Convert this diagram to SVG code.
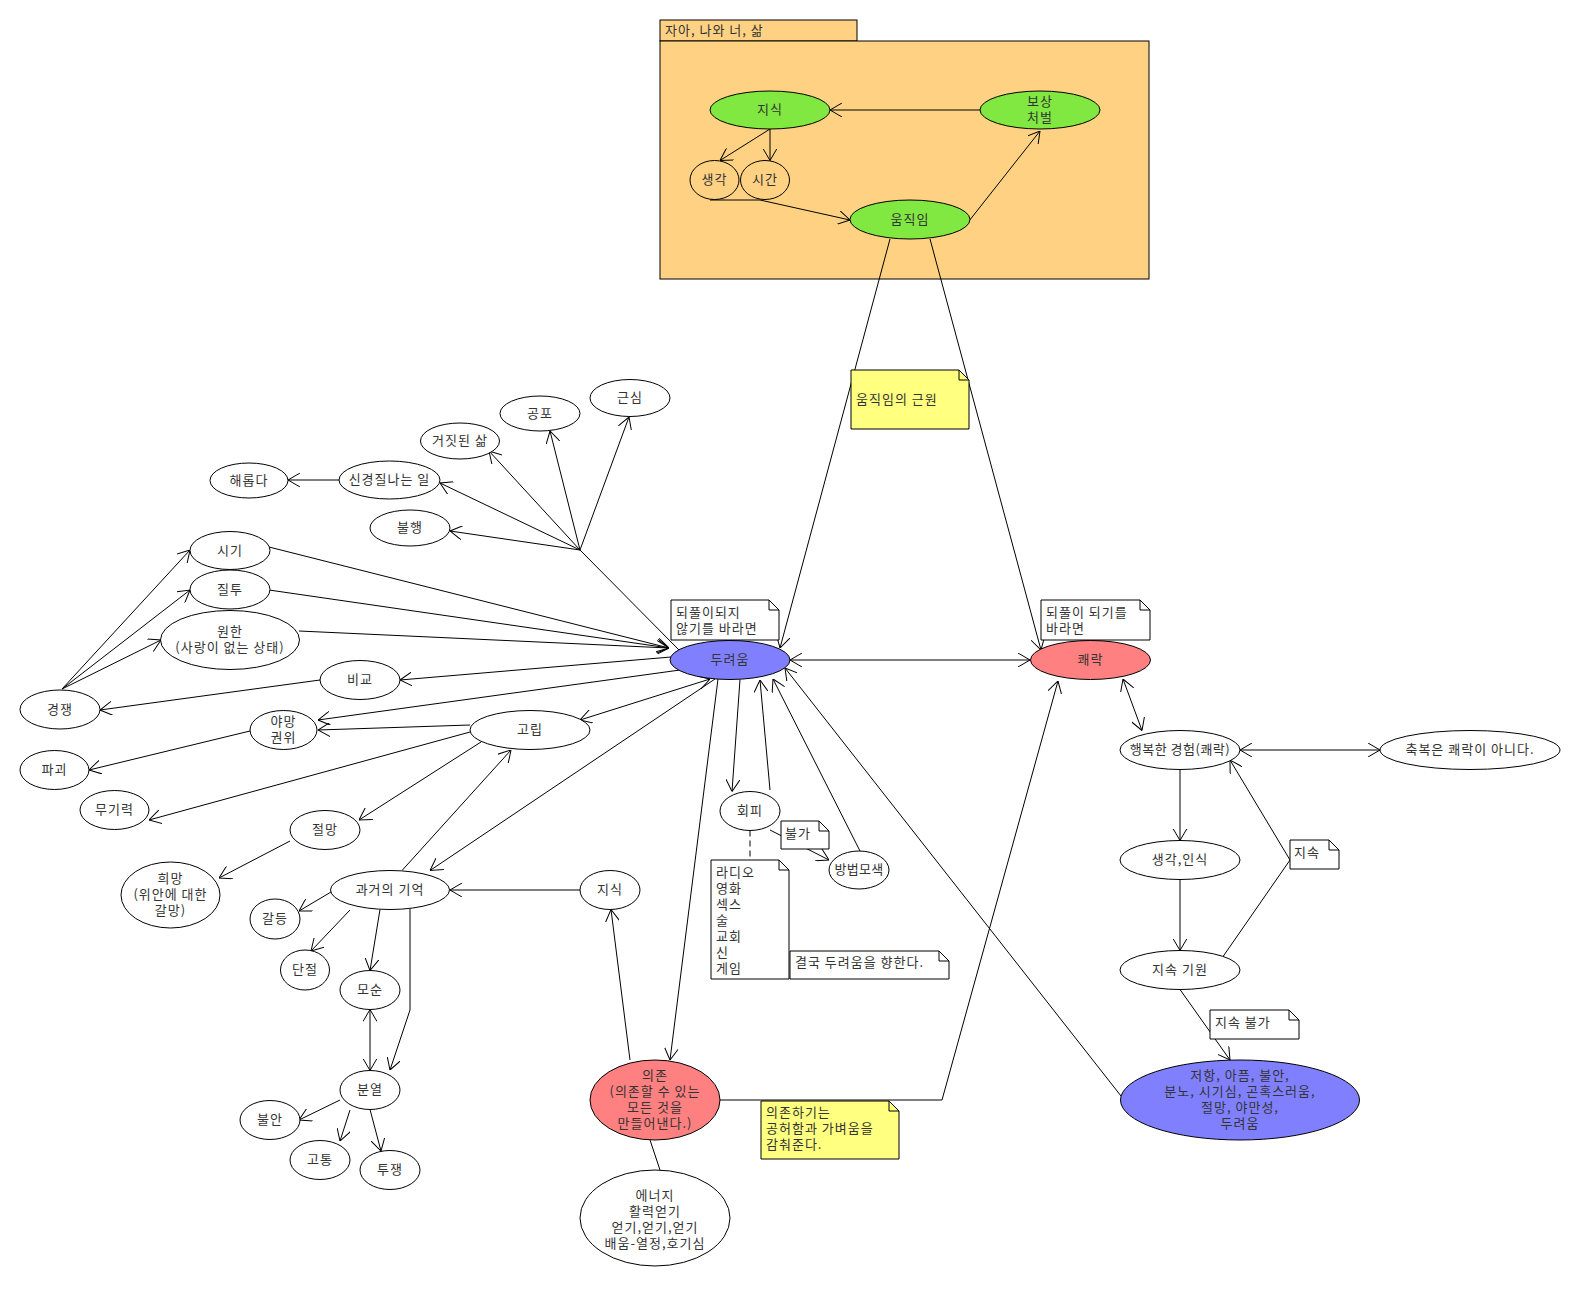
<svg xmlns="http://www.w3.org/2000/svg" width="1580" height="1290" viewBox="0 0 1580 1290">
<style>
  .e { fill:#ffffff; stroke:#000; stroke-width:1 }
  .gr { fill:#80E840 }
  .bl { fill:#8080FF }
  .rd { fill:#FF8080 }
  .nt { fill:#ffffff; stroke:#000; stroke-width:1 }
  .yl { fill:#FFFF80 }
  .pk { fill:#FFD283; stroke:#000; stroke-width:1 }
  .fold { fill:none; stroke:#000; stroke-width:1 }
  text { font-family:"Noto Sans CJK KR","Noto Sans",sans-serif; font-size:13px; fill:#333; letter-spacing:1px; transform:translateY(-1.5px) }
  .c { text-anchor:middle; dominant-baseline:central }
  .l { text-anchor:start; dominant-baseline:central }
  #edges line, #edges polyline { fill:none; stroke:#000; stroke-width:1 }
  .a { marker-end:url(#arr) }
  .aa { marker-end:url(#arr); marker-start:url(#arr) }
  .d { stroke-dasharray:6,4 }
</style>
<defs>
  <marker id="arr" viewBox="0 0 12 14" refX="12" refY="7" markerWidth="12" markerHeight="14" markerUnits="userSpaceOnUse" orient="auto-start-reverse">
    <path d="M0,0 L12,7 L0,14" fill="none" stroke="#000" stroke-width="1"/>
  </marker>
</defs>
<rect width="1580" height="1290" fill="#ffffff"/>

<g id="package">
  <rect class="pk" x="660" y="20" width="197" height="21"/>
  <rect class="pk" x="660" y="41" width="489" height="238"/>
  <text class="l" x="665" y="31">자아, 나와 너, 삶</text>
</g>

<g id="edges">
  <line class="a" x1="980" y1="110" x2="830" y2="110"/>
  <line class="a" x1="770" y1="129" x2="720" y2="160.5"/>
  <line class="a" x1="770" y1="129" x2="770" y2="160.5"/>
  <polyline class="a" points="710,200 760,200 850,220"/>
  <line class="a" x1="969" y1="221" x2="1040" y2="131"/>
  <line class="a" x1="890" y1="239" x2="780" y2="648"/>
  <line class="a" x1="930" y1="239" x2="1041" y2="650"/>
  <line class="aa" x1="790" y1="660" x2="1030" y2="660"/>
  <line x1="679" y1="650" x2="580" y2="550"/>
  <line class="a" x1="580" y1="550" x2="629" y2="417"/>
  <line class="a" x1="580" y1="550" x2="550" y2="431"/>
  <line class="a" x1="580" y1="550" x2="489" y2="451"/>
  <line class="a" x1="580" y1="550" x2="440" y2="483"/>
  <line class="a" x1="580" y1="550" x2="450" y2="531"/>
  <line class="a" x1="339" y1="480" x2="288" y2="480"/>
  <line class="a" x1="269" y1="547" x2="669" y2="648"/>
  <line class="a" x1="269" y1="590" x2="669" y2="648"/>
  <line class="a" x1="299" y1="631" x2="669" y2="648"/>
  <line class="a" x1="62" y1="689" x2="190" y2="550"/>
  <line class="a" x1="62" y1="689" x2="190" y2="590"/>
  <line class="a" x1="62" y1="689" x2="161" y2="640"/>
  <line class="a" x1="320" y1="680" x2="100" y2="710"/>
  <line class="a" x1="671" y1="657" x2="400" y2="680"/>
  <line class="a" x1="680" y1="670" x2="318" y2="720"/>
  <line class="a" x1="470" y1="725" x2="318" y2="730"/>
  <line class="a" x1="250" y1="731" x2="89" y2="770"/>
  <line class="a" x1="470" y1="732" x2="149" y2="820"/>
  <line class="aa" x1="710" y1="679" x2="580" y2="720"/>
  <line class="a" x1="481" y1="742" x2="359" y2="820"/>
  <line class="a" x1="290" y1="841" x2="219" y2="878"/>
  <line class="a" x1="402" y1="870.5" x2="511" y2="750"/>
  <line class="a" x1="715" y1="679" x2="430" y2="870.5"/>
  <line class="a" x1="580" y1="890" x2="450" y2="890"/>
  <line class="a" x1="331" y1="892" x2="299" y2="911"/>
  <line class="a" x1="350" y1="910" x2="311" y2="951"/>
  <line class="a" x1="380" y1="909.5" x2="370" y2="970.5"/>
  <polyline class="a" points="410,909 410,1010 390,1070"/>
  <line class="aa" x1="370" y1="1009.5" x2="370" y2="1070.5"/>
  <line class="a" x1="340" y1="1100" x2="299" y2="1120"/>
  <line class="a" x1="350" y1="1110" x2="340" y2="1141"/>
  <line class="a" x1="370" y1="1109.5" x2="381" y2="1151"/>
  <line class="a" x1="630" y1="1060" x2="611" y2="909.5"/>
  <line class="a" x1="718" y1="679" x2="670" y2="1060"/>
  <polyline class="a" points="720,1100 942,1100 1058,681"/>
  <line x1="650" y1="1140" x2="660" y2="1170"/>
  <line class="a" x1="740" y1="679.5" x2="732" y2="791.5"/>
  <line class="a" x1="770" y1="790" x2="760" y2="680"/>
  <line class="a" x1="860" y1="851" x2="773" y2="679"/>
  <line class="a" x1="770" y1="830" x2="829" y2="860"/>
  <line class="d" x1="750" y1="830.5" x2="750" y2="860"/>
  <line class="a" x1="1121" y1="1096" x2="785" y2="668"/>
  <line class="aa" x1="1123" y1="679" x2="1142" y2="730.5"/>
  <line class="aa" x1="1240" y1="750" x2="1380" y2="750"/>
  <line class="a" x1="1180" y1="769.5" x2="1180" y2="840.5"/>
  <line class="a" x1="1180" y1="879.5" x2="1180" y2="950.5"/>
  <polyline class="a" points="1222,958 1290,860 1230,760"/>
  <line class="a" x1="1180" y1="989.5" x2="1230" y2="1060"/>
</g>

<g id="n-jisik-top"><ellipse class="e gr" cx="770" cy="110" rx="60" ry="19"/><text class="c" x="770" y="110">지식</text></g>
<g id="n-bosang"><ellipse class="e gr" cx="1040" cy="110" rx="60" ry="19"/><text class="c" x="1040" y="102">보상</text><text class="c" x="1040" y="118">처벌</text></g>
<g id="n-saenggak"><ellipse class="e" style="fill:none" cx="714.5" cy="180" rx="24.5" ry="19.5"/><text class="c" x="714.5" y="180">생각</text></g>
<g id="n-sigan"><ellipse class="e" style="fill:none" cx="765" cy="180" rx="24.5" ry="19.5"/><text class="c" x="765" y="180">시간</text></g>
<g id="n-umjigim"><ellipse class="e gr" cx="910" cy="219.5" rx="60" ry="19.5"/><text class="c" x="910" y="219.5">움직임</text></g>

<g id="n-duryeoum"><ellipse class="e bl" cx="730" cy="660" rx="60" ry="19.5"/><text class="c" x="730" y="660">두려움</text></g>
<g id="n-kwaerak"><ellipse class="e rd" cx="1090.5" cy="660" rx="60" ry="19.5"/><text class="c" x="1090.5" y="660">쾌락</text></g>

<g id="n-haeropda"><ellipse class="e" cx="249" cy="480.5" rx="39" ry="17.5"/><text class="c" x="249" y="480.5">해롭다</text></g>
<g id="n-singyeong"><ellipse class="e" cx="389.5" cy="480" rx="50.5" ry="19"/><text class="c" x="389.5" y="480">신경질나는 일</text></g>
<g id="n-geojit"><ellipse class="e" cx="460" cy="441" rx="39.5" ry="18"/><text class="c" x="460" y="441">거짓된 삶</text></g>
<g id="n-gongpo"><ellipse class="e" cx="540" cy="413.5" rx="40" ry="17.5"/><text class="c" x="540" y="413.5">공포</text></g>
<g id="n-geunsim"><ellipse class="e" cx="630" cy="398" rx="40" ry="18.5"/><text class="c" x="630" y="398">근심</text></g>
<g id="n-bulhaeng"><ellipse class="e" cx="410" cy="528" rx="40" ry="18"/><text class="c" x="410" y="528">불행</text></g>

<g id="n-sigi"><ellipse class="e" cx="230" cy="550.5" rx="40" ry="19"/><text class="c" x="230" y="550.5">시기</text></g>
<g id="n-jiltu"><ellipse class="e" cx="230" cy="589.5" rx="40" ry="19.5"/><text class="c" x="230" y="589.5">질투</text></g>
<g id="n-wonhan"><ellipse class="e" cx="230" cy="640" rx="69.5" ry="29.5"/><text class="c" x="230" y="632">원한</text><text class="c" x="230" y="648">(사랑이 없는 상태)</text></g>
<g id="n-gyeongjaeng"><ellipse class="e" cx="60" cy="709.5" rx="40" ry="19.5"/><text class="c" x="60" y="709.5">경쟁</text></g>
<g id="n-bigyo"><ellipse class="e" cx="360" cy="680" rx="40" ry="19.5"/><text class="c" x="360" y="680">비교</text></g>
<g id="n-yamang"><ellipse class="e" cx="283.5" cy="730" rx="33.5" ry="19.5"/><text class="c" x="283.5" y="722">야망</text><text class="c" x="283.5" y="738">권위</text></g>
<g id="n-pagoe"><ellipse class="e" cx="54.5" cy="770" rx="34.5" ry="19.5"/><text class="c" x="54.5" y="770">파괴</text></g>
<g id="n-mugiryeok"><ellipse class="e" cx="114.5" cy="810" rx="34.5" ry="19.5"/><text class="c" x="114.5" y="810">무기력</text></g>
<g id="n-gorip"><ellipse class="e" cx="530" cy="730" rx="60" ry="19.5"/><text class="c" x="530" y="730">고립</text></g>
<g id="n-jeolmang"><ellipse class="e" cx="325" cy="830" rx="35" ry="19.5"/><text class="c" x="325" y="830">절망</text></g>
<g id="n-huimang"><ellipse class="e" cx="170.5" cy="895" rx="49.5" ry="33"/><text class="c" x="170.5" y="879">희망</text><text class="c" x="170.5" y="895">(위안에 대한</text><text class="c" x="170.5" y="911">갈망)</text></g>
<g id="n-gwageo"><ellipse class="e" cx="390" cy="890" rx="59.5" ry="19.5"/><text class="c" x="390" y="890">과거의 기억</text></g>
<g id="n-jisik-bottom"><ellipse class="e" cx="610" cy="890" rx="30" ry="19.5"/><text class="c" x="610" y="890">지식</text></g>
<g id="n-galdeung"><ellipse class="e" cx="275" cy="919" rx="25" ry="20"/><text class="c" x="275" y="919">갈등</text></g>
<g id="n-danjeol"><ellipse class="e" cx="305" cy="970" rx="24.5" ry="20"/><text class="c" x="305" y="970">단절</text></g>
<g id="n-mosun"><ellipse class="e" cx="370" cy="990" rx="30" ry="19.5"/><text class="c" x="370" y="990">모순</text></g>
<g id="n-bunyeol"><ellipse class="e" cx="370" cy="1090" rx="30" ry="19.5"/><text class="c" x="370" y="1090">분열</text></g>
<g id="n-buran"><ellipse class="e" cx="270" cy="1120" rx="30" ry="19.5"/><text class="c" x="270" y="1120">불안</text></g>
<g id="n-gotong"><ellipse class="e" cx="320" cy="1160" rx="30" ry="19.5"/><text class="c" x="320" y="1160">고통</text></g>
<g id="n-tujaeng"><ellipse class="e" cx="390" cy="1170" rx="30" ry="19.5"/><text class="c" x="390" y="1170">투쟁</text></g>

<g id="n-uijon"><ellipse class="e rd" cx="655" cy="1100" rx="65" ry="40"/><text class="c" x="655" y="1076">의존</text><text class="c" x="655" y="1092">(의존할 수 있는</text><text class="c" x="655" y="1108">모든 것을</text><text class="c" x="655" y="1124">만들어낸다.)</text></g>
<g id="n-energy"><ellipse class="e" cx="655" cy="1218" rx="75" ry="48"/><text class="c" x="655" y="1196">에너지</text><text class="c" x="655" y="1212">활력얻기</text><text class="c" x="655" y="1228">얻기,얻기,얻기</text><text class="c" x="655" y="1244">배움-열정,호기심</text></g>

<g id="n-hoepi"><ellipse class="e" cx="750" cy="811" rx="30" ry="19.5"/><text class="c" x="750" y="811">회피</text></g>
<g id="n-bangbeop"><ellipse class="e" cx="859" cy="870" rx="30" ry="19"/><text class="c" x="859" y="870" style="letter-spacing:0.3px">방법모색</text></g>

<g id="n-haengbok"><ellipse class="e" cx="1180" cy="750" rx="60" ry="19.5"/><text class="c" x="1180" y="750" style="letter-spacing:0.5px">행복한 경험(쾌락)</text></g>
<g id="n-chukbok"><ellipse class="e" cx="1470" cy="750" rx="90" ry="19.5"/><text class="c" x="1470" y="750">축복은 쾌락이 아니다.</text></g>
<g id="n-insik"><ellipse class="e" cx="1180" cy="860" rx="60" ry="19.5"/><text class="c" x="1180" y="860">생각,인식</text></g>
<g id="n-jisokgiwon"><ellipse class="e" cx="1180" cy="970" rx="60" ry="19.5"/><text class="c" x="1180" y="970">지속 기원</text></g>
<g id="n-jeohang"><ellipse class="e bl" cx="1240" cy="1100" rx="119.5" ry="40"/><text class="c" x="1240" y="1076">저항, 아픔, 불안,</text><text class="c" x="1240" y="1092">분노, 시기심, 곤혹스러움,</text><text class="c" x="1240" y="1108">절망, 야만성,</text><text class="c" x="1240" y="1124">두려움</text></g>

<g id="note-doepuri-anki">
  <path class="nt" d="M671,600 H769 L779,610 V640 H671 Z"/><path class="fold" d="M769,600 V610 H779"/>
  <text class="l" x="676" y="613">되풀이되지</text><text class="l" x="676" y="629">않기를 바라면</text>
</g>
<g id="note-doepuri-dogi">
  <path class="nt" d="M1041,600 H1140 L1150,610 V640 H1041 Z"/><path class="fold" d="M1140,600 V610 H1150"/>
  <text class="l" x="1046" y="613">되풀이 되기를</text><text class="l" x="1046" y="629">바라면</text>
</g>
<g id="note-geunwon">
  <path class="nt yl" d="M851,370 H959 L969,380 V429 H851 Z"/><path class="fold" d="M959,370 V380 H969"/>
  <text class="l" x="856" y="400">움직임의 근원</text>
</g>
<g id="note-bulga">
  <path class="nt" d="M781,821 H819 L829,831 V849 H781 Z"/><path class="fold" d="M819,821 V831 H829"/>
  <text class="l" x="785" y="834">불가</text>
</g>
<g id="note-radio">
  <path class="nt" d="M711,860 H779 L789,870 V979 H711 Z"/><path class="fold" d="M779,860 V870 H789"/>
  <text class="l" x="716" y="873">라디오</text><text class="l" x="716" y="889">영화</text><text class="l" x="716" y="905">섹스</text><text class="l" x="716" y="921">술</text><text class="l" x="716" y="937">교회</text><text class="l" x="716" y="953">신</text><text class="l" x="716" y="969">게임</text>
</g>
<g id="note-gyeolguk">
  <path class="nt" d="M790,951 H939 L949,961 V979 H790 Z"/><path class="fold" d="M939,951 V961 H949"/>
  <text class="l" x="795" y="963">결국 두려움을 향한다.</text>
</g>
<g id="note-jisok">
  <path class="nt" d="M1290,840 H1329 L1339,850 V869 H1290 Z"/><path class="fold" d="M1329,840 V850 H1339"/>
  <text class="l" x="1294" y="853">지속</text>
</g>
<g id="note-jisokbulga">
  <path class="nt" d="M1210,1010 H1289 L1299,1020 V1039 H1210 Z"/><path class="fold" d="M1289,1010 V1020 H1299"/>
  <text class="l" x="1215" y="1023">지속 불가</text>
</g>
<g id="note-uijonhagineun">
  <path class="nt yl" d="M761,1101 H889 L899,1111 V1159 H761 Z"/><path class="fold" d="M889,1101 V1111 H899"/>
  <text class="l" x="766" y="1113">의존하기는</text><text class="l" x="766" y="1129">공허함과 가벼움을</text><text class="l" x="766" y="1145">감춰준다.</text>
</g>
</svg>
